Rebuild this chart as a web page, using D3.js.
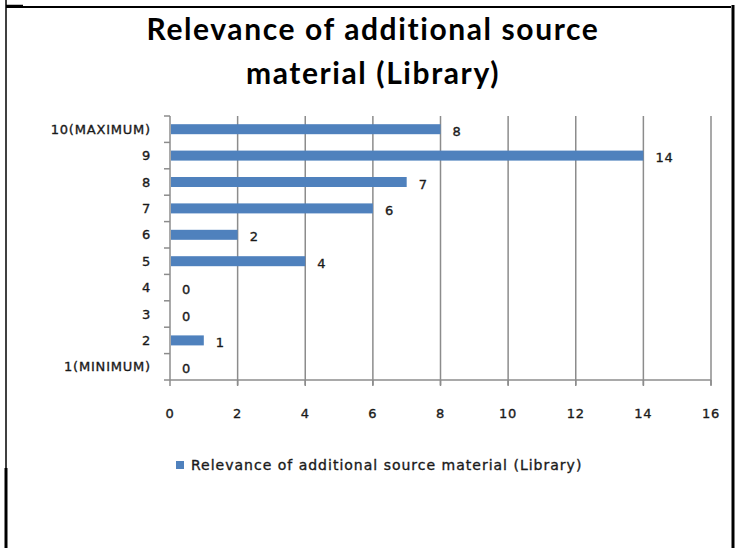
<!DOCTYPE html>
<html><head><meta charset="utf-8">
<script src="https://cdn.jsdelivr.net/npm/d3@7"></script>
<style>body{margin:0;background:#fff}svg{display:block}</style>
</head><body>
<script>
const categories = ["10(MAXIMUM)","9","8","7","6","5","4","3","2","1(MINIMUM)"];
const values = [8,14,7,6,2,4,0,0,1,0];
const xTicks = [0,2,4,6,8,10,12,14,16];
const seriesName = "Relevance of additional source material (Library)";
const titleLines = ["Relevance of additional source","material (Library)"];

(function(){
const W=739,H=548;
const svg=d3.select("body").append("svg").attr("width",W).attr("height",H);
svg.append("rect").attr("width",W).attr("height",H).attr("fill","#fff");

// frame
svg.append("line").attr("x1",6).attr("x2",731).attr("y1",7).attr("y2",7).attr("stroke","#000").attr("stroke-width",2);
svg.append("line").attr("x1",6).attr("x2",6).attr("y1",0).attr("y2",H).attr("stroke","#000").attr("stroke-width",1.5);
svg.append("line").attr("x1",6).attr("x2",6).attr("y1",468).attr("y2",H).attr("stroke","#000").attr("stroke-width",3);
svg.append("line").attr("x1",733).attr("x2",733).attr("y1",5).attr("y2",H).attr("stroke","#000").attr("stroke-width",3);
svg.append("line").attr("x1",6).attr("x2",23).attr("y1",5.5).attr("y2",5.5).attr("stroke","#000").attr("stroke-width",1.5);

const font="'DejaVu Sans', Verdana, sans-serif";
const tc="#1a1a1a";
const heavy=sel=>sel.attr("stroke",tc).attr("stroke-width",0.35);
svg.append("g").selectAll("text").data(titleLines).join("text")
  .attr("x",373).attr("y",(d,i)=>40+i*44).attr("text-anchor","middle")
  .attr("font-family","Lato, 'Open Sans', sans-serif").attr("font-weight","bold").attr("font-size",30)
  .attr("letter-spacing",1.6).attr("fill","#000").text(d=>d);

const pl=170,pr=711,pt=116,pb=380;
const x=d3.scaleLinear().domain([0,16]).range([pl,pr]);
const y=d3.scaleBand().domain(categories).range([pt,pb]);

// grid
svg.append("g").selectAll("line").data(xTicks.filter(d=>d>0)).join("line")
  .attr("x1",d=>x(d)).attr("x2",d=>x(d)).attr("y1",pt).attr("y2",pb+5)
  .attr("stroke","#8c8c8c").attr("stroke-width",1.5);

// y axis
const yAxis=svg.append("g").attr("transform",`translate(${pl},0)`);
yAxis.append("line").attr("y1",pt).attr("y2",pb).attr("stroke","#8c8c8c").attr("stroke-width",1.5);
const bounds=d3.range(categories.length+1).map(i=>pt+i*y.step());
yAxis.selectAll("line.t").data(bounds).join("line").attr("class","t")
  .attr("x1",-6).attr("x2",0).attr("y1",d=>d).attr("y2",d=>d).attr("stroke","#8c8c8c").attr("stroke-width",1.5);
yAxis.selectAll("text").data(categories).join("text")
  .attr("x",-19).attr("y",d=>y(d)+y.bandwidth()/2).attr("dy","0.36em").attr("text-anchor","end")
  .attr("font-family",font).attr("font-size",13).attr("letter-spacing",0.8).attr("fill",tc).call(heavy).text(d=>d);

// x axis
const xAxis=svg.append("g");
xAxis.append("line").attr("x1",pl).attr("x2",pr).attr("y1",pb).attr("y2",pb).attr("stroke","#8c8c8c").attr("stroke-width",1.5);
xAxis.selectAll("line.t").data(xTicks).join("line").attr("class","t")
  .attr("x1",d=>x(d)).attr("x2",d=>x(d)).attr("y1",pb).attr("y2",pb+6).attr("stroke","#8c8c8c").attr("stroke-width",1.5);
xAxis.selectAll("text").data(xTicks).join("text")
  .attr("x",d=>x(d)).attr("y",413).attr("dy","0.36em").attr("text-anchor","middle")
  .attr("font-family",font).attr("font-size",13).attr("letter-spacing",0.8).attr("fill",tc).call(heavy).text(d=>d);

// bars
const bh=10;
svg.append("g").selectAll("rect").data(values).join("rect")
  .attr("x",x(0)+1).attr("y",(d,i)=>y(categories[i])+y.bandwidth()/2-bh/2)
  .attr("width",d=>Math.max(0,x(d)-x(0)-1)).attr("height",bh).attr("fill","#4F81BD");
svg.append("g").selectAll("text").data(values).join("text")
  .attr("x",d=>x(d)+12).attr("y",(d,i)=>y(categories[i])+y.bandwidth()/2+2).attr("dy","0.36em")
  .attr("font-family",font).attr("font-size",13).attr("letter-spacing",0.8).attr("fill",tc).call(heavy).text(d=>d);

// legend
svg.append("rect").attr("x",176).attr("y",461).attr("width",8).attr("height",8).attr("fill","#4F81BD");
svg.append("text").attr("x",191).attr("y",465).attr("dy","0.36em")
  .attr("font-family",font).attr("font-size",14).attr("letter-spacing",1).attr("fill",tc).call(heavy).text(seriesName);
})();
</script>
</body></html>
